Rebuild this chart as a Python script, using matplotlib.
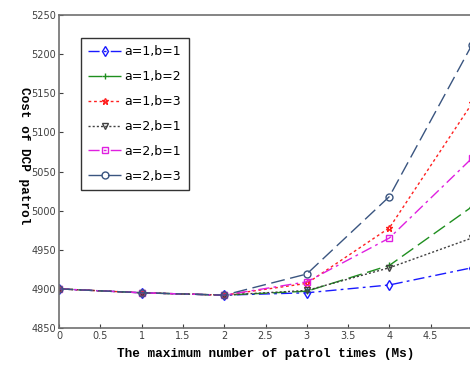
import numpy as np
import matplotlib
matplotlib.use('Agg')
import matplotlib.pyplot as plt

# Maximum number of patrol times
x = [0, 1, 2, 3, 4, 5]

# Cost of DCP patrol for each (a, b) setting
cost_a1_b1 = [4900, 4895, 4892, 4895, 4905, 4927]
cost_a1_b2 = [4900, 4895, 4892, 4897, 4930, 5005]
cost_a1_b3 = [4900, 4895, 4892, 4907, 4978, 5137]
cost_a2_b1 = [4900, 4895, 4892, 4898, 4927, 4965]
cost_a2_b1b = [4900, 4895, 4892, 4909, 4965, 5067]
cost_a2_b3 = [4900, 4895, 4892, 4919, 5018, 5212]

labels = ['a=1,b=1', 'a=1,b=2', 'a=1,b=3', 'a=2,b=1', 'a=2,b=1', 'a=2,b=3']

fig = plt.figure(figsize=(4.7, 3.73), dpi=100)
ax = fig.add_axes([59 / 470, 45 / 373, 413 / 470, 313 / 373])

styles = [
    dict(color='#1a1aff', linestyle='-.', marker='d', dashes=(8, 3, 2, 3)),
    dict(color='#1f8f1f', linestyle='--', marker='+', dashes=(10, 4)),
    dict(color='#ff2020', linestyle=':', marker='*', dashes=(2, 2)),
    dict(color='#404040', linestyle=':', marker='v', dashes=(1.5, 1.5)),
    dict(color='#e020e0', linestyle='-.', marker='s', dashes=(8, 3, 2, 3)),
    dict(color='#3a5580', linestyle='--', marker='o', dashes=(10, 4)),
]
series = [cost_a1_b1, cost_a1_b2, cost_a1_b3, cost_a2_b1, cost_a2_b1b, cost_a2_b3]

for y, lab, st in zip(series, labels, styles):
    ax.plot(x, y, label=lab, linewidth=1.0, markersize=5,
            markerfacecolor='none', markeredgewidth=1.0, **st)

ax.set_xlim(0, 5)
ax.set_ylim(4850, 5250)
ax.set_xticks(np.arange(0, 5.0, 0.5))
ax.set_xticklabels(['0', '0.5', '1', '1.5', '2', '2.5', '3', '3.5', '4', '4.5'])
ax.set_yticks(np.arange(4850, 5251, 50))
ax.tick_params(direction='in', length=3, labelsize=7, colors='#404040', pad=2)

for sp in ax.spines.values():
    sp.set_color('#707070')
    sp.set_linewidth(1.2)

mono = dict(family='Liberation Mono', fontweight='bold', fontsize=9.2)
ax.set_xlabel('The maximum number of patrol times (Ms)', labelpad=5, **mono)
ax.set_ylabel('Cost of DCP patrol', rotation=270, labelpad=24, **mono)
ax.yaxis.set_label_coords(-0.1, 0.55)

leg = ax.legend(loc='upper left', bbox_to_anchor=(0.053, 0.927), fontsize=9,
                fancybox=False, edgecolor='black', handlelength=2.6,
                borderpad=0.6, labelspacing=0.95, handletextpad=0.3,
                borderaxespad=0)
leg.get_frame().set_linewidth(1.0)

fig.savefig('out.png', dpi=100)
